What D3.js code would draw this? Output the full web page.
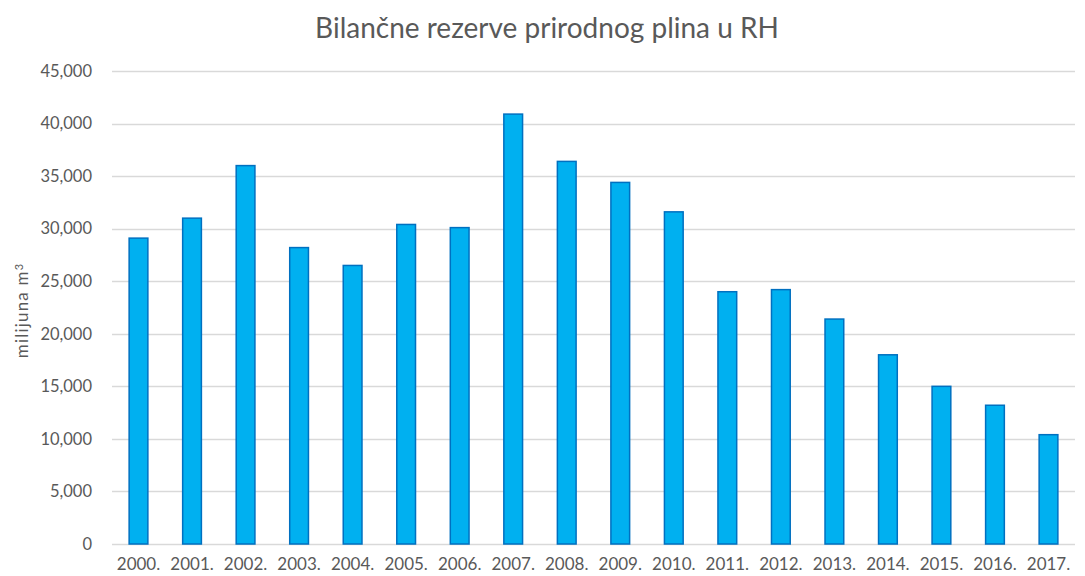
<!DOCTYPE html>
<html>
<head>
<meta charset="utf-8">
<script src="https://cdn.jsdelivr.net/npm/d3@7"></script>
<style>
	body { margin: 0; background: #fff; }
	text { font-family: Lato, "Open Sans", sans-serif; fill: #595959; }
</style>
</head>
<body>
<div id="chart"></div>
<script>
// data
var years = ["2000.", "2001.", "2002.", "2003.", "2004.", "2005.", "2006.", "2007.", "2008.",
	"2009.", "2010.", "2011.", "2012.", "2013.", "2014.", "2015.", "2016.", "2017."];
var reserves = [29100, 31000, 36000, 28200, 26500, 30400, 30100, 40900, 36400,
	34400, 31600, 24000, 24200, 21400, 18000, 15000, 13200, 10400];
var yTicks = [0, 5000, 10000, 15000, 20000, 25000, 30000, 35000, 40000, 45000];

var width = 1085,
	height = 576,
	margin = { top: 71, right: 10, bottom: 32, left: 112 };

var svg = d3.select("#chart").append("svg")
	.attr("width", width)
	.attr("height", height);

var x = d3.scaleBand()
	.domain(years)
	.range([margin.left, width - margin.right])
	.paddingInner(0.65)
	.paddingOuter(0.32);

var y = d3.scaleLinear()
	.domain([0, 45000])
	.range([height - margin.bottom, margin.top]);

// gridlines
svg.append("g")
	.selectAll("line")
	.data(yTicks)
	.enter()
	.append("line")
	.attr("x1", margin.left)
	.attr("x2", width - margin.right)
	.attr("y1", function(d) { return Math.round(y(d)) + 0.5; })
	.attr("y2", function(d) { return Math.round(y(d)) + 0.5; })
	.style("stroke", "#d9d9d9")
	.style("stroke-width", "1.3px");

// y tick labels
var fmt = d3.format(",");
svg.append("g")
	.selectAll("text")
	.data(yTicks)
	.enter()
	.append("text")
	.attr("x", 92)
	.attr("y", function(d) { return y(d); })
	.attr("dy", "0.35em")
	.style("text-anchor", "end")
	.style("font-size", "16.5px")
	.text(function(d) { return fmt(d); });

// bars
svg.append("g")
	.selectAll("rect")
	.data(reserves)
	.enter()
	.append("rect")
	.attr("x", function(d, i) { return x(years[i]); })
	.attr("y", function(d) { return y(d); })
	.attr("width", x.bandwidth())
	.attr("height", function(d) { return y(0) - y(d); })
	.style("fill", "#00b0f0")
	.style("stroke", "#0070c0")
	.style("stroke-width", "1.5px");

// x labels
svg.append("g")
	.selectAll("text")
	.data(years)
	.enter()
	.append("text")
	.attr("x", function(d) { return x(d) + x.bandwidth() / 2; })
	.attr("y", 570)
	.style("text-anchor", "middle")
	.style("font-size", "17px")
	.text(function(d) { return d; });

// axis title
var ylab = svg.append("text")
	.attr("transform", "translate(28," + (y(22500) + 3) + ") rotate(-90)")
	.style("text-anchor", "middle")
	.style("font-size", "17px")
	.style("letter-spacing", "1.2px");
ylab.append("tspan").text("milijuna m");
ylab.append("tspan").attr("dy", "-0.5em").style("font-size", "11px").text("3");

// title
svg.append("text")
	.attr("x", 547)
	.attr("y", 38)
	.style("text-anchor", "middle")
	.style("font-size", "28px")
	.text("Bilančne rezerve prirodnog plina u RH");
</script>
</body>
</html>
